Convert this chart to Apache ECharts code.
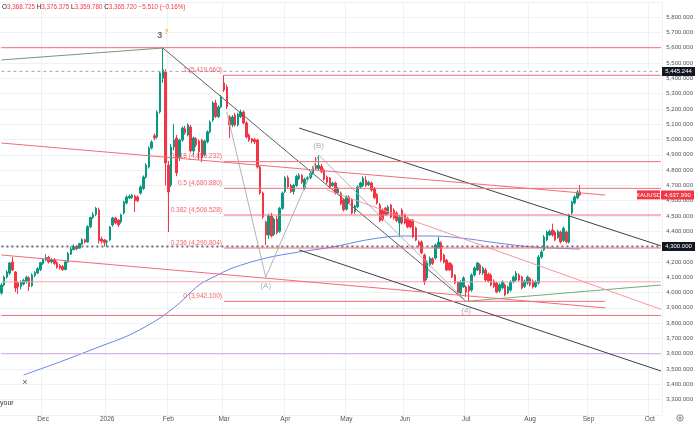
<!DOCTYPE html>
<html><head><meta charset="utf-8">
<script src="https://cdn.jsdelivr.net/npm/echarts@6/dist/echarts.min.js"></script>
<style>html,body{margin:0;padding:0;background:#fff}#c{width:696px;height:428px}</style>
</head><body><div id="c"></div>
<script>
// ---- Data (daily XAUUSD candles) ----
const firstDay = '2025-11-10';
const lastDay = '2026-10-07';
const opens = [3997,4049,4101,4127,4199,4134,4062,4040,4055,4070,4095,4045,4112,4128,4150,4190,4212,4230,4200,4215,
4195,4175,4170,4150,4200,4250,4280,4300,4290,4315,4345,4330,4430,4490,4510,4540,4350,4343,4330,4343,
4441,4487,4474,4461,4520,4585,4618,4620,4630,4625,4650,4680,4755,4820,4944,5025,5016,5180,5400,5441,
4833,4703,4951,5010,4886,4997,5070,5030,5082,4925,5005,4990,4995,4900,4985,5050,5127,5239,5150,5212,
5370,5343,5147,5095,5160,5095,5150,5180,5108,5030,5005,5000,4997,4820,4650,4461,4376,4500,4380,4480,
4400,4550,4660,4750,4700,4660,4700,4745,4765,4680,4740,4750,4780,4830,4810,4825,4800,4755,4748,4700,
4716,4650,4650,4605,4545,4625,4605,4530,4560,4690,4700,4735,4705,4716,4680,4640,4572,4540,4552,4515,
4572,4539,4520,4454,4539,4507,4487,4474,4474,4422,4330,4330,4245,4095,4180,4220,4225,4291,4324,4245,
4212,4193,4180,4114,4069,3997,4036,4036,4040,4016,4114,4147,4180,4127,4147,4120,4114,4075,4062,4010,
4030,4049,3997,4016,4069,4082,4114,4101,4040,4062,4090,4075,4040,4062,4232,4278,4343,4376,4408,4395,
4360,4395,4340,4395,4330,4520,4585,4618,4657];
const closes = [4049,4101,4134,4193,4147,4029,4036,4065,4080,4100,4040,4115,4130,4155,4195,4215,4228,4200,4215,4190,
4165,4160,4150,4200,4255,4285,4300,4285,4320,4345,4330,4430,4490,4510,4550,4340,4335,4325,4335,4428,
4487,4454,4441,4507,4592,4624,4630,4635,4600,4600,4690,4755,4833,4944,4984,5010,5180,5435,5454,4846,
4657,4951,4997,4781,4997,5075,5045,5095,4925,5010,4965,4920,4880,4990,5050,5114,5239,5150,5212,5278,
5324,5213,5095,5147,5095,5165,5180,5108,5016,4997,4990,4984,4820,4650,4494,4376,4500,4370,4480,4390,
4550,4650,4750,4690,4660,4700,4760,4765,4720,4740,4750,4780,4815,4810,4830,4790,4740,4720,4690,4715,
4650,4680,4580,4540,4625,4590,4520,4565,4690,4716,4748,4700,4720,4670,4620,4585,4470,4474,4510,4559,
4493,4487,4470,4493,4454,4454,4428,4428,4363,4343,4310,4258,4069,4199,4225,4190,4310,4330,4212,4199,
4147,4147,4101,4062,3997,4069,4095,4003,4010,4114,4160,4193,4127,4160,4082,4075,4049,4040,4003,4050,
4070,3984,4036,4069,4101,4127,4082,4029,4075,4101,4050,4036,4069,4232,4265,4363,4395,4400,4376,4343,
4400,4330,4420,4330,4507,4592,4625,4657,4637.99];
const lows = [3985,4040,4090,4115,4140,4003,3990,4020,4045,4060,4010,4035,4100,4120,4140,4180,4205,4190,4190,4180,
4155,4150,4140,4145,4195,4245,4275,4275,4285,4310,4320,4325,4420,4480,4500,4320,4320,4300,4300,4335,
4430,4445,4430,4450,4510,4575,4610,4612,4526,4590,4640,4670,4745,4810,4935,4995,5005,5170,5370,4700,
4395,4690,4930,4760,4860,4985,5030,5020,4915,4900,4950,4866,4853,4890,4975,5040,5115,5140,5140,5205,
5310,5200,5010,5080,5085,5085,5140,5100,5005,4985,4975,4970,4810,4640,4480,4310,4350,4360,4370,4380,
4390,4540,4650,4680,4650,4640,4690,4735,4710,4670,4725,4740,4770,4800,4800,4780,4730,4710,4680,4690,
4640,4640,4570,4530,4535,4580,4510,4515,4550,4680,4690,4690,4695,4660,4610,4575,4460,4465,4500,4505,
4485,4475,4460,4363,4445,4445,4420,4420,4355,4335,4300,4250,4050,4080,4170,4180,4215,4285,4200,4190,
4140,4140,4095,4055,3990,3985,4030,3971,3942.1,4005,4105,4140,4115,4115,4070,4065,4040,4030,3995,4000,
4020,3975,3990,4005,4060,4075,4075,4020,4030,4050,4040,4025,4030,4050,4220,4270,4335,4370,4365,4335,
4350,4320,4330,4320,4320,4510,4575,4610,4630];
const highs = [4060,4110,4145,4200,4232,4140,4075,4080,4090,4110,4105,4125,4140,4165,4200,4225,4250,4240,4225,4225,
4205,4185,4180,4210,4265,4300,4315,4310,4325,4355,4352,4440,4495,4525,4560,4555,4365,4350,4345,4435,
4495,4495,4480,4515,4600,4635,4640,4645,4640,4635,4700,4765,4845,4955,4995,5040,5190,5445,5598,5460,
4860,4970,5100,5030,5005,5085,5090,5105,5095,5020,5015,5000,5005,5000,5060,5125,5250,5260,5225,5290,
5419.66,5360,5160,5160,5175,5175,5195,5190,5120,5040,5010,5010,5005,4830,4660,4470,4515,4520,4490,4500,
4560,4660,4760,4765,4710,4710,4770,4780,4775,4750,4760,4790,4825,4886,4899,4840,4810,4765,4755,4725,
4725,4690,4660,4615,4635,4635,4615,4575,4700,4725,4760,4760,4730,4725,4690,4650,4585,4550,4560,4570,
4580,4550,4530,4505,4550,4515,4495,4480,4480,4430,4340,4340,4255,4210,4235,4230,4320,4363,4335,4255,
4220,4200,4190,4120,4075,4080,4105,4045,4050,4125,4170,4200,4190,4170,4160,4130,4125,4085,4070,4060,
4080,4060,4045,4080,4110,4140,4125,4110,4085,4110,4100,4085,4080,4245,4280,4375,4405,4410,4450,4405,
4410,4405,4430,4405,4515,4600,4635,4670,4703];

// moving average (blue) read at sampled dates
const maDates = ['2025-11-20','2025-12-09','2025-12-29','2026-01-13','2026-01-28','2026-02-06','2026-02-17','2026-02-25','2026-03-05','2026-03-23','2026-04-08','2026-04-24','2026-05-12','2026-05-28','2026-06-16','2026-07-02','2026-07-16','2026-08-04','2026-08-27'];
const maValues = [3461,3546,3644,3722,3833,3931,4049,4108,4160,4225,4265,4297,4343,4369,4369,4350,4324,4297,4284];

// drawn levels / trendlines: [date, price]
const fibLevels = [[1,5419.66],[0.618,4855.232],[0.5,4680.88],[0.382,4506.528],[0.236,4290.804],[0,3942.1]];
const fibStart = '2026-03-02';
const wavePath = [['2026-03-03',5180],['2026-03-23',4100],['2026-04-17',4899],['2026-07-01',3942.1]];
const peakLeft = [['2025-11-10',5520],['2026-01-29',5598]];
const peakDown = [['2026-01-29',5598],['2026-07-01',3942.1]];
const chanUpper = [['2026-04-08',5075],['2026-10-07',4305]];
const chanLower = [['2026-04-08',4278],['2026-10-07',3487]];
const greenLine = [['2026-07-01',3942.1],['2026-10-07',4049]];
const redUpper = [['2025-11-10',4977],['2026-09-09',4637]];
const redLower = [['2025-11-10',4245],['2026-09-09',3899]];
const pinkLine = [['2026-04-22',4670],['2026-10-07',3890]];
const hLevels = {red5600:5600, close5445:5445.244, dotted4300:4300, red4070:4070, red3850:3850, purple3600:3600};
const waveLabels = [['2026-01-29',5598,'3','top'],['2026-04-17',4899,'(B)','top'],['2026-03-23',4100,'(A)','bottom'],['2026-07-01',3942.1,'(4)','bottom']];
const lastPrice = 4637.99;

// ---- categories (weekdays) ----
const cats = [];
for (let d = new Date(firstDay+'T00:00:00Z'); d <= new Date(lastDay+'T00:00:00Z'); d.setUTCDate(d.getUTCDate()+1)) {
  const wd = d.getUTCDay();
  if (wd !== 0 && wd !== 6) cats.push(d.toISOString().slice(0,10));
}
const monthNames = ['Jan','Feb','Mar','Apr','May','Jun','Jul','Aug','Sep','Oct','Nov','Dec'];
const isMonthStart = (idx) => idx > 0 && cats[idx].slice(5,7) !== cats[idx-1].slice(5,7);

const candles = opens.map((o,i)=>[o, closes[i], lows[i], highs[i]]);
const RED = '#f23645', GREEN = '#089981';
const LRED = '#f26d79', PINK = '#f5a3ab';
const FONT = 'Liberation Sans';

function seg(data, color, width, type, z) {
  return {type:'line', data, symbol:'none', silent:true, animation:false, z: z||3,
    itemStyle:{color}, lineStyle:{color, width:width||1, type:type||'solid', opacity:1}};
}
const full = (p) => [[firstDay, p],[lastDay, p]];
const fmt = v => v.toLocaleString('en-US',{minimumFractionDigits:3, maximumFractionDigits:3});

const series = [
  {type:'candlestick', data: candles, barWidth: 2, z:2, animation:false,
   itemStyle:{color:GREEN, color0:RED, borderColor:GREEN, borderColor0:RED, borderWidth:1}},
  seg(full(hLevels.red5600), LRED, 1),
  seg(full(hLevels.close5445), '#a3a6ae', 1, [3,3]),
  seg(full(hLevels.dotted4300), '#6b6e78', 2, [2,3]),
  seg(full(hLevels.red4070), PINK, 1),
  seg(full(hLevels.red3850), LRED, 1),
  seg(full(hLevels.purple3600), '#cfa6dd', 1),
  seg(maDates.map((d,i)=>[d, maValues[i]]), '#6a86ea', 1, 'solid', 2),
  seg(peakLeft, '#7a957a', 1),
  seg(peakDown, '#56655a', 1),
  seg(chanUpper, '#3d4049', 1),
  seg(chanLower, '#3d4049', 1),
  seg(wavePath, '#b0b3ba', 1),
  seg(greenLine, '#72ad72', 1),
  seg(redUpper, LRED, 1),
  seg(redLower, LRED, 1),
  seg(pinkLine, '#f597a0', 1),
];
series[7].smooth = 0.3;
fibLevels.forEach(([lv, price]) => {
  const end = lv === 0 ? '2026-09-09' : lastDay;
  series.push(seg([[fibStart, price],[end, price]], LRED, 1));
});
series.push({type:'scatter', symbolSize:0, silent:true, animation:false, z:5,
  data: fibLevels.map(([lv,price]) => ({value:[fibStart, price],
    label:{show:true, position:'left', distance:2, offset:[0,-5], color:RED, fontSize:6.5, fontFamily:FONT,
      formatter: lv + ' (' + fmt(price) + ')'}}))
});
series.push({type:'scatter', symbolSize:0, silent:true, animation:false, z:5,
  data: waveLabels.map(([d,p,t,pos]) => ({value:[d,p],
    label:{show:true, position:pos, distance:5, fontFamily:FONT,
      formatter: t==='3' ? '{n|3}{q|?}' : t,
      color:'#9598a1', fontSize:8,
      rich:{n:{color:'#2f4a35', fontSize:9, fontWeight:'bold', fontFamily:FONT}, q:{color:'#ff9800', fontSize:7, fontWeight:'bold', padding:[0,0,7,2], fontFamily:FONT}}}}))
});

const chart = echarts.init(document.getElementById('c'), null, {renderer:'canvas'});
chart.setOption({
  animation:false,
  backgroundColor:'#ffffff',
  grid:{left:0, right:33, top:1.8, bottom:13.1, containLabel:false},
  xAxis:{type:'category', data:cats, boundaryGap:true,
    axisLine:{show:false}, axisTick:{show:false},
    axisLabel:{interval:(i)=>isMonthStart(i), margin:1, fontSize:6.5, color:'#50535e', fontFamily:FONT,
      formatter:(v)=>{const m=+v.slice(5,7)-1; return m===0 ? v.slice(0,4) : monthNames[m];}},
    splitLine:{show:true, interval:(i)=>isMonthStart(i), lineStyle:{color:'#eff1f5', width:1}}
  },
  yAxis:{type:'value', position:'right', min:3200, max:5900, interval:100, scale:true,
    axisLine:{show:false}, axisTick:{show:false},
    axisLabel:{margin:4, fontSize:6, color:'#50535e', fontFamily:FONT, showMinLabel:false, showMaxLabel:false, formatter:fmt},
    splitLine:{show:true, lineStyle:{color:'#eff1f5', width:1}}
  },
  series
});

// axis tags and overlay texts, positioned through the chart's scales
function tag(price, text, bg, x, w) {
  const y = chart.convertToPixel({yAxisIndex:0}, price);
  return [
    {type:'rect', z:100, shape:{x, y:y-4.5, width:w, height:9}, style:{fill:bg}},
    {type:'text', z:101, x:x+w/2, y:y, style:{text, fill:'#fff', font:'6px "Liberation Sans"', align:'center', verticalAlign:'middle'}}
  ];
}
const g = [].concat(
  tag(hLevels.close5445, fmt(hLevels.close5445), '#131722', 662, 33),
  tag(hLevels.dotted4300, fmt(hLevels.dotted4300), '#131722', 662, 33),
  tag(lastPrice, 'XAUUSD', RED, 637, 23),
  tag(lastPrice, fmt(lastPrice), RED, 661, 33),
  [
    {type:'text', z:100, x:2, y:7, style:{
      text:'{l|O}{v|3,368.725} {l|H}{v|3,376.375} {l|L}{v|3,359.780} {l|C}{v|3,365.720} {v|−5.510 (−0.16%)}',
      font:'6.3px "Liberation Sans"', verticalAlign:'middle',
      rich:{l:{fill:'#131722', font:'6.3px "Liberation Sans"'}, v:{fill:RED, font:'6.3px "Liberation Sans"'}}}},
    {type:'text', z:100, x:25, y:383, style:{text:'×', fill:'#555', font:'9px "Liberation Sans"', align:'center', verticalAlign:'middle'}},
    {type:'text', z:100, x:0, y:403, style:{text:'your', fill:'#333', font:'7px "Liberation Sans"', verticalAlign:'middle'}},
    {type:'circle', z:100, shape:{cx:680, cy:418, r:3.2}, style:{fill:'none', stroke:'#666', lineWidth:0.8}},
    {type:'circle', z:100, shape:{cx:680, cy:418, r:1.1}, style:{fill:'none', stroke:'#666', lineWidth:0.8}}
  ]
);
chart.setOption({graphic: g});
</script>
</body></html>
